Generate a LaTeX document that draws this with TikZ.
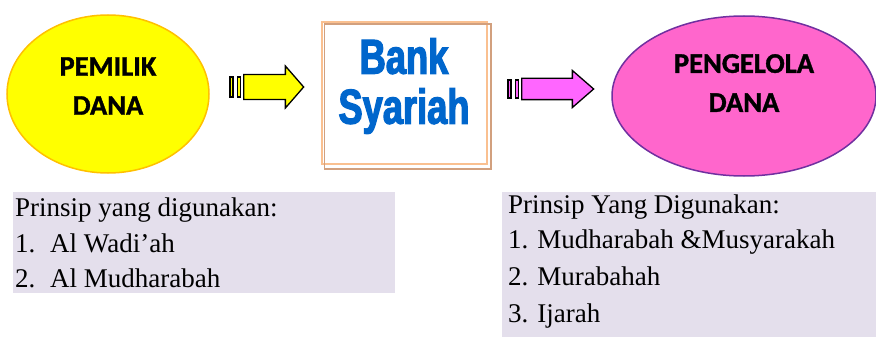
\documentclass[tikz,border=0pt]{standalone}
\usepackage{fontspec}
\setmainfont{Liberation Serif}
\newfontfamily\partyfont[FakeBold=1.2]{Carlito}
\newfontfamily\bankfont[FakeStretch=0.74,FakeBold=2.5]{Liberation Sans Bold}
\usetikzlibrary{positioning}
\usetikzlibrary{shapes,shapes.arrows}
\usetikzlibrary{calc}
\definecolor{partyyellow}{HTML}{FFFF00}
\definecolor{partyorange}{HTML}{FFC000}
\definecolor{partypink}{HTML}{FF66CC}
\definecolor{partypurple}{HTML}{7030A0}
\definecolor{arrowpink}{HTML}{FF66FF}
\definecolor{banklight}{HTML}{FAC090}
\definecolor{bankdark}{HTML}{D2A07E}
\definecolor{bankblue}{HTML}{0066CC}
\definecolor{infofill}{HTML}{E4DFEC}
\tikzstyle{party}=[ellipse,draw,line width=1.5pt,inner sep=0pt,align=center,font=\partyfont\bfseries\fontsize{28.5}{39}\selectfont]
\tikzstyle{bankbox}=[rectangle,draw=banklight,fill=white,line width=1.5pt,minimum width=165pt,minimum height=142pt]
\tikzstyle{banktext}=[text=bankblue,align=center,inner sep=0pt,font=\bankfont\fontsize{49}{50}\selectfont]
\tikzstyle{flowarrow}=[single arrow,draw=black,line width=1.3pt,inner xsep=0pt,single arrow head indent=0pt,anchor=tail]
\tikzstyle{stripe}=[rectangle,draw=black,line width=1.5pt,inner sep=0pt,minimum width=3pt]
\tikzstyle{infobox}=[rectangle,fill=infofill,inner sep=0pt,anchor=north west]
\tikzstyle{infotext}=[anchor=base west,inner sep=0pt,font=\fontsize{27}{36}\selectfont]

\begin{document}
\begin{tikzpicture}[x=1pt,y=-1pt]
    \useasboundingbox (0,0) rectangle (876,337);
    % First we draw the two parties and the bank
    \node[party,fill=partyyellow,draw=partyorange,minimum width=202pt,minimum height=158pt] (pemilik) at (108,94) {PEMILIK\\DANA\rule[-16pt]{0pt}{16pt}};
    \node[party,fill=partypink,draw=partypurple,minimum width=264pt,minimum height=160pt] (pengelola) at (744,96) {PENGELOLA\\DANA\rule[-26pt]{0pt}{26pt}};
    \node[bankbox] (bank) at (404.5,93) {};
    \draw[bankdark,line width=1.5pt] ($(bank.north west)+(3,3)$) rectangle ($(bank.south east)+(3,4)$);
    \node[banktext] (banklabel) at (404,86) {Bank\\Syariah};

    % Then the striped arrows in between
    \node[flowarrow,fill=partyyellow,inner ysep=10pt,minimum height=60pt,minimum width=42pt,single arrow tip angle=98] (arrow1) at (243,87) {};
    \node[stripe,fill=partyyellow,minimum height=20pt,anchor=east,left=2pt of arrow1.tail] (stripe1a) {};
    \node[stripe,fill=partyyellow,minimum height=20pt,anchor=east,left=3pt of stripe1a.west] (stripe1b) {};
    \node[flowarrow,fill=arrowpink,inner ysep=9pt,minimum height=72pt,minimum width=37pt,single arrow tip angle=82] (arrow2) at (521,89) {};
    \node[stripe,fill=arrowpink,minimum height=18pt,anchor=east,left=2pt of arrow2.tail] (stripe2a) {};
    \node[stripe,fill=arrowpink,minimum height=18pt,anchor=east,left=3pt of stripe2a.west] (stripe2b) {};

    % The two lists of principles
    \node[infobox,minimum width=382pt,minimum height=101pt] (kiri) at (13,192) {};
    \foreach \n/\dy/\txt in {0/24/{Prinsip yang digunakan:}, 1/60/{\makebox[35pt][l]{1.}Al Wadi'ah}, 2/95/{\makebox[35pt][l]{2.}Al Mudharabah}}
        \node[infotext] (kiri\n) at ($(kiri.north west)+(2,\dy)$) {\txt};
    \node[infobox,minimum width=374pt,minimum height=145pt] (kanan) at (502,192) {};
    \foreach \n/\dy/\txt in {0/21/{Prinsip Yang Digunakan:}, 1/56/{1. Mudharabah \&Musyarakah}, 2/93/{2. Murabahah}, 3/130/{3. Ijarah}}
        \node[infotext] (kanan\n) at ($(kanan.north west)+(6,\dy)$) {\txt};
\end{tikzpicture}
\end{document}
